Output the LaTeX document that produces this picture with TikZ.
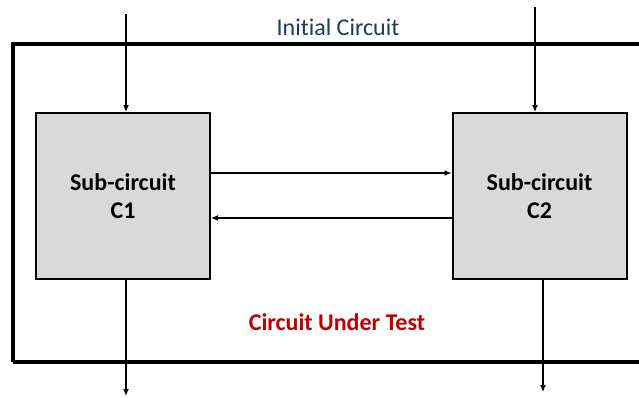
\documentclass[tikz,border=0pt]{standalone}
\usepackage{fontspec}
\setmainfont[Ligatures=NoCommon]{Carlito}
\usetikzlibrary{arrows.meta}
\definecolor{boxgray}{HTML}{D9D9D9}
\definecolor{titleblue}{HTML}{203864}
\definecolor{cutred}{HTML}{C00000}
\begin{document}
\begin{tikzpicture}[x=1pt,y=-1pt,
  subbox/.style={draw=black,line width=2pt,fill=boxgray,minimum width=174pt,minimum height=166pt,inner sep=0pt,align=center,font=\fontsize{24}{28}\selectfont\bfseries},
  wire/.style={line width=1.2pt,-{Latex[length=7pt,width=6pt]}}]
\useasboundingbox (0,0) rectangle (639,397);
\clip (0,0) rectangle (639,397);
\draw[line width=3.2pt] (13,362) -- (13,44) -- (650,44);
\draw[line width=3.2pt] (13,362) -- (650,362);
\node[subbox] (c1) at (123,196) {Sub-circuit\\C1};
\node[subbox] (c2) at (539.5,196) {Sub-circuit\\C2};
\node[font=\fontsize{24}{28}\selectfont,text=titleblue] (title) at (338,27) {Initial Circuit};
\node[font=\fontsize{24}{28}\selectfont\bfseries,text=cutred] (cut) at (337,322) {Circuit Under Test};
\coordinate (in1) at (126,14);
\coordinate (in2) at (535,7);
\coordinate (out1) at (126,396);
\coordinate (out2) at (543,392);
\draw[wire] (in1) -- (in1 |- c1.north);
\draw[wire] (in2) -- (in2 |- c2.north);
\draw[wire] ([yshift=23pt]c1.east) -- ([yshift=23pt]c2.west);
\draw[wire] ([yshift=-22pt]c2.west) -- ([yshift=-22pt]c1.east);
\draw[wire] (out1 |- c1.south) -- (out1);
\draw[wire] (out2 |- c2.south) -- (out2);
\end{tikzpicture}
\end{document}
